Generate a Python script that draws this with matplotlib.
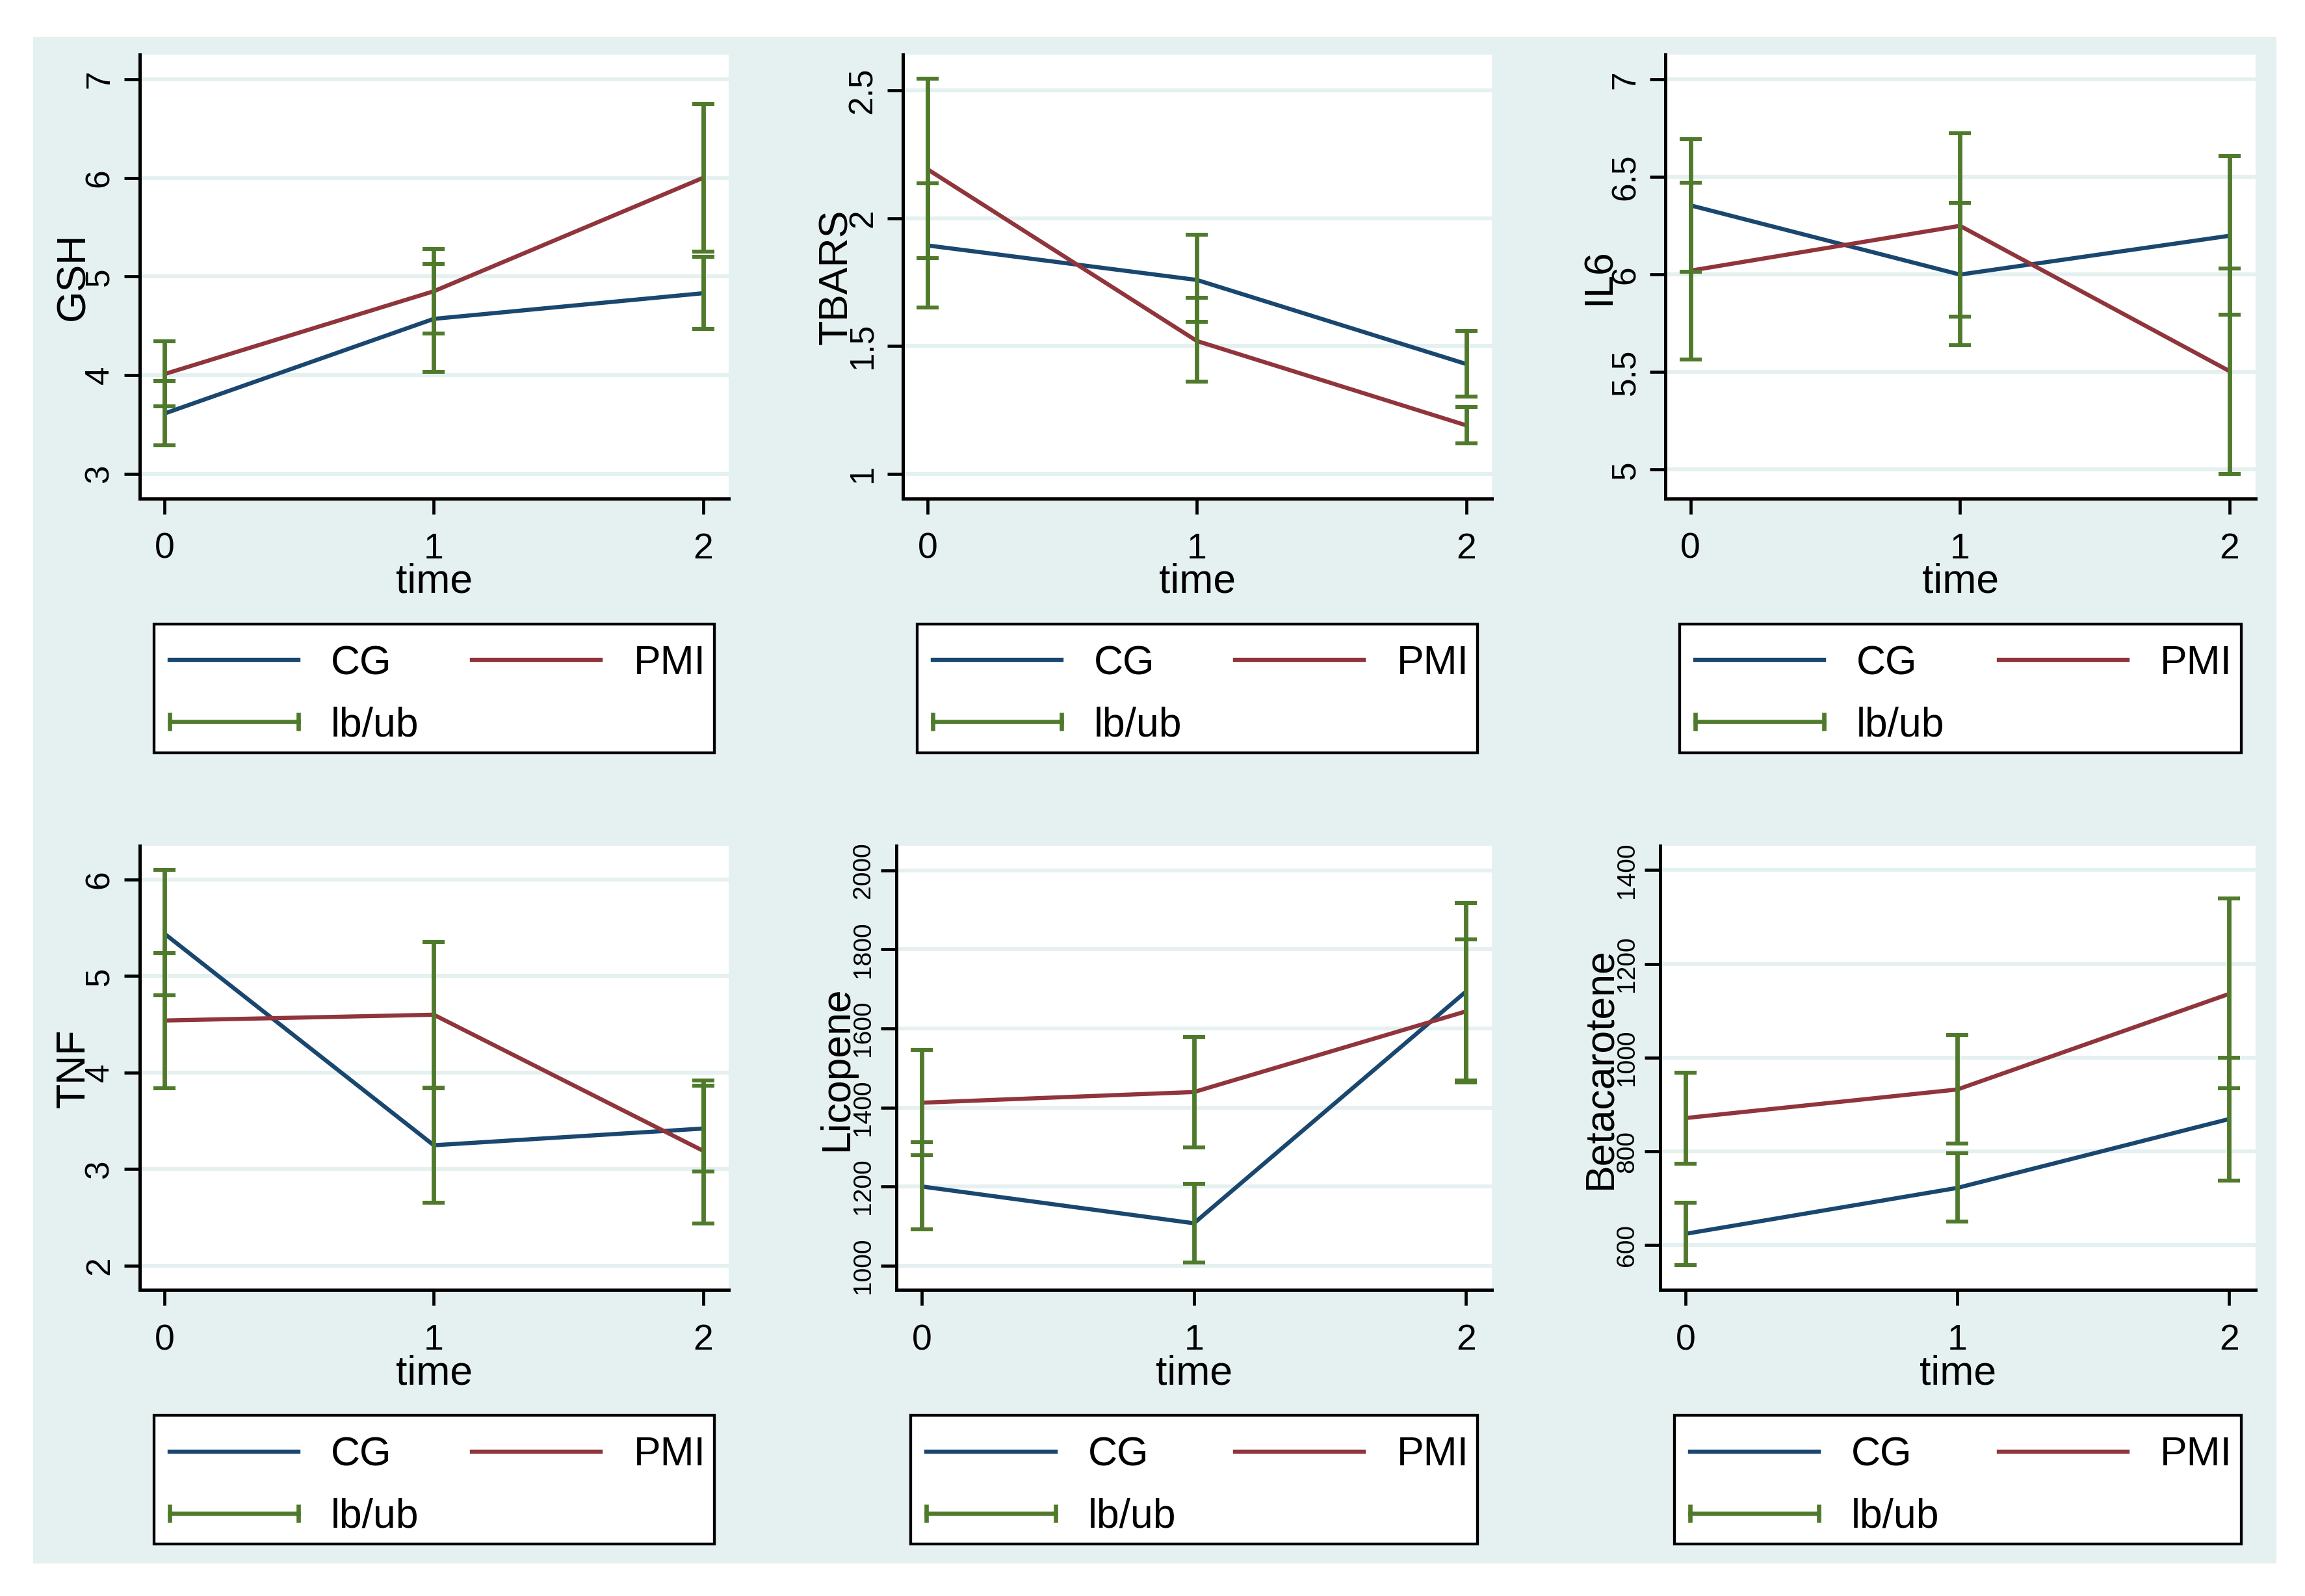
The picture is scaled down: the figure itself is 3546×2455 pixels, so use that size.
import matplotlib.pyplot as plt
from matplotlib.lines import Line2D
from matplotlib.patches import Rectangle
from matplotlib.legend_handler import HandlerLine2D

plt.rcParams['font.family'] = ['Liberation Sans', 'DejaVu Sans']

time = [0, 1, 2]

# GSH
gsh_cg = [3.61, 4.57, 4.83]
gsh_pmi = [4.01, 4.85, 6.00]
gsh_cg_lb = [3.29, 4.03, 4.47]
gsh_cg_ub = [3.94, 5.13, 5.20]
gsh_pmi_lb = [3.68, 4.42, 5.25]
gsh_pmi_ub = [4.34, 5.28, 6.75]
gsh_ticks = [3, 4, 5, 6, 7]

# TBARS
tbars_cg = [1.894, 1.759, 1.43]
tbars_pmi = [2.192, 1.52, 1.19]
tbars_cg_lb = [1.65, 1.594, 1.302]
tbars_cg_ub = [2.137, 1.937, 1.559]
tbars_pmi_lb = [1.845, 1.362, 1.12]
tbars_pmi_ub = [2.547, 1.69, 1.263]
tbars_ticks = [1, 1.5, 2, 2.5]

# IL6
il6_cg = [6.355, 6.0, 6.199]
il6_pmi = [6.02, 6.25, 5.505]
il6_cg_lb = [6.013, 5.638, 5.796]
il6_cg_ub = [6.694, 6.367, 6.607]
il6_pmi_lb = [5.566, 5.786, 4.977]
il6_pmi_ub = [6.472, 6.724, 6.03]
il6_ticks = [5, 5.5, 6, 6.5, 7]

# TNF
tnf_cg = [5.44, 3.247, 3.42]
tnf_pmi = [4.54, 4.60, 3.19]
tnf_cg_lb = [4.80, 2.654, 2.975]
tnf_cg_ub = [6.10, 3.84, 3.866]
tnf_pmi_lb = [3.835, 3.845, 2.435]
tnf_pmi_ub = [5.24, 5.355, 3.92]
tnf_ticks = [2, 3, 4, 5, 6]

# Licopene
lic_cg = [1200, 1107, 1693]
lic_pmi = [1412, 1439, 1643]
lic_cg_lb = [1092, 1007, 1468]
lic_cg_ub = [1312, 1206, 1918]
lic_pmi_lb = [1279, 1299, 1464]
lic_pmi_ub = [1545, 1578, 1825]
lic_ticks = [1000, 1200, 1400, 1600, 1800, 2000]

# Betacarotene
beta_cg = [624, 722, 869]
beta_pmi = [871, 932, 1136]
beta_cg_lb = [557, 650, 738]
beta_cg_ub = [691, 796, 1000]
beta_pmi_lb = [774, 816, 934]
beta_pmi_ub = [968, 1048, 1339]
beta_ticks = [600, 800, 1000, 1200, 1400]

navy = '#1a476f'
maroon = '#90353b'
green = '#4f7a2b'
bg = '#e5f0f0'

W, H = 3546, 2455
fig = plt.figure(figsize=(W / 100, H / 100), dpi=100)
fig.patch.set_facecolor('white')

# light graph region behind all six panels
fig.add_artist(Rectangle((51 / W, 1 - 2404.6 / H), (3502 - 51) / W, (2404.6 - 56.7) / H,
                         transform=fig.transFigure, facecolor=bg, edgecolor='none', zorder=-10))

# name, cg, pmi, cg_lb, cg_ub, pmi_lb, pmi_ub, ticks, ylim, box(px), tick size, ylabel offset
panels = [
    ('GSH', gsh_cg, gsh_pmi, gsh_cg_lb, gsh_cg_ub, gsh_pmi_lb, gsh_pmi_ub, gsh_ticks,
     (2.747, 7.25), (214.5, 84, 1121.3, 767), 37, 101.5),
    ('TBARS', tbars_cg, tbars_pmi, tbars_cg_lb, tbars_cg_ub, tbars_pmi_lb, tbars_pmi_ub, tbars_ticks,
     (0.903, 2.641), (1388.5, 84, 2295.3, 767), 37, 101.5),
    ('IL6', il6_cg, il6_pmi, il6_cg_lb, il6_cg_ub, il6_pmi_lb, il6_pmi_ub, il6_ticks,
     (4.851, 7.128), (2562, 84, 3469.6, 767), 37, 101.5),
    ('TNF', tnf_cg, tnf_pmi, tnf_cg_lb, tnf_cg_ub, tnf_pmi_lb, tnf_pmi_ub, tnf_ticks,
     (1.746, 6.351), (214.5, 1301, 1121.3, 1984.4), 37, 101.5),
    ('Licopene', lic_cg, lic_pmi, lic_cg_lb, lic_cg_ub, lic_pmi_lb, lic_pmi_ub, lic_ticks,
     (938, 2062), (1379.4, 1301, 2295.3, 1984.4), 28, 92),
    ('Betacarotene', beta_cg, beta_pmi, beta_cg_lb, beta_cg_ub, beta_pmi_lb, beta_pmi_ub, beta_ticks,
     (504, 1452), (2554, 1301, 3469.6, 1984.4), 28, 92),
]

for (name, cg, pmi, cg_lb, cg_ub, pmi_lb, pmi_ub, ticks, ylim, box, tsize, yoff) in panels:
    x0, y0, x1, y1 = box
    ax = fig.add_axes([x0 / W, 1 - y1 / H, (x1 - x0) / W, (y1 - y0) / H])
    ax.set_facecolor('white')

    ax.plot(time, cg, color=navy, lw=4.6, solid_capstyle='butt', zorder=3)
    ax.plot(time, pmi, color=maroon, lw=4.6, solid_capstyle='butt', zorder=3)
    for lb, ub in [(cg_lb, cg_ub), (pmi_lb, pmi_ub)]:
        ax.errorbar(time, lb, yerr=[[0] * len(lb), [u - l for u, l in zip(ub, lb)]],
                    fmt='none', ecolor=green, elinewidth=4.9, capsize=11.9, capthick=4.3, zorder=4)

    ax.set_xlim(-0.093, 2.096)
    ax.set_ylim(*ylim)
    ax.set_xticks(time)
    ax.set_xticklabels([str(t) for t in time], fontsize=40)
    ax.set_yticks(ticks)
    ax.set_yticklabels([f'{v:g}' for v in ticks], fontsize=tsize, rotation=90, va='center')

    for s in ['top', 'right']:
        ax.spines[s].set_visible(False)
    for s in ['left', 'bottom']:
        ax.spines[s].set_linewidth(3.6)
    ax.tick_params(axis='both', direction='out', length=17.3, width=3.4, color='black')
    ax.tick_params(axis='x', pad=20)
    ax.tick_params(axis='y', pad=9.0 if tsize > 30 else 6.6)
    ax.yaxis.grid(True, color=bg, lw=4.3)
    ax.set_axisbelow(True)

    ax.set_ylabel(name, fontsize=45, va='center')
    ax.yaxis.set_label_coords(-yoff / (x1 - x0), 0.5)
    ax.set_xlabel('time', fontsize=45, va='baseline')
    ax.xaxis.set_label_coords(0.5, -145 / (y1 - y0))

    # legend box under each panel: frame drawn separately, entries placed inside
    lx0, lx1 = x0 + 22, x1 - 22
    ltop = y1 + 193
    lh = 198
    fig.add_artist(Rectangle((lx0 / W, 1 - (ltop + lh) / H), (lx1 - lx0) / W, lh / H,
                             transform=fig.transFigure, facecolor='white', edgecolor='black',
                             lw=3.1, zorder=-5))
    h_cg = Line2D([], [], color=navy, lw=4.6)
    h_pmi = Line2D([], [], color=maroon, lw=4.6)
    h_ci = Line2D([], [], color=green, lw=4.7, marker='|', ms=19.5, mew=4.8)
    ctop = ltop + 31
    cx0, cx1 = lx0 + 24, lx1 - 14
    ax.legend([h_cg, h_ci, h_pmi], ['CG', 'lb/ub', 'PMI'], ncol=2, mode='expand',
              loc='upper left', bbox_to_anchor=(cx0 / W, 1 - (ctop + 150) / H, (cx1 - cx0) / W, 150 / H),
              bbox_transform=fig.transFigure, borderaxespad=0, borderpad=0,
              labelspacing=0.58, handlelength=3.17, handletextpad=0.8, columnspacing=1.0,
              fontsize=45, frameon=False,
              handler_map={h_ci: HandlerLine2D(numpoints=2, marker_pad=0)})

fig.savefig('out.png', dpi=100)
